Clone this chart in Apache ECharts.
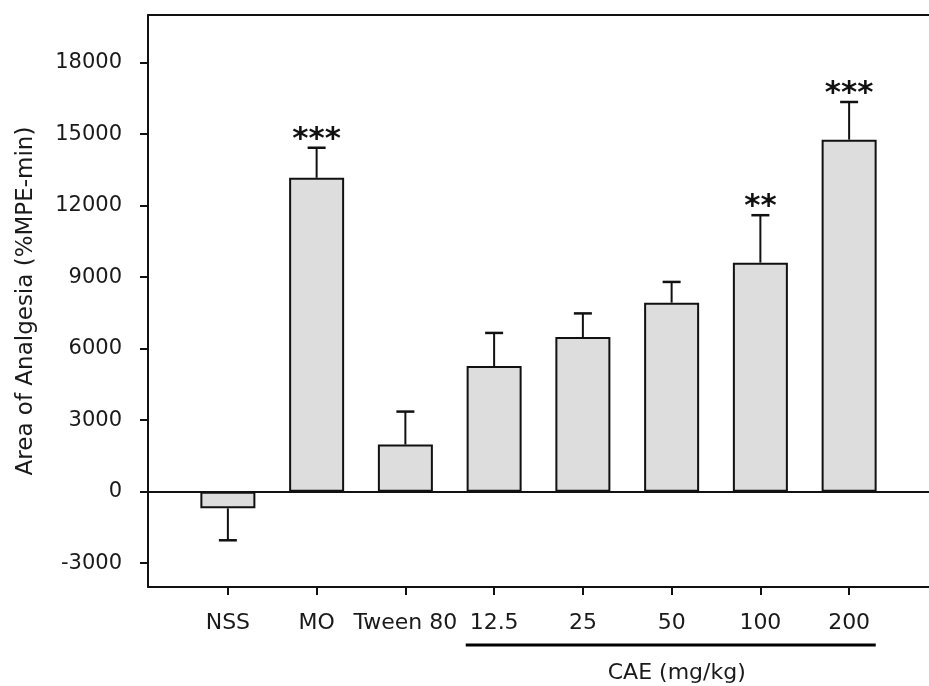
<!DOCTYPE html>
<html>
<head>
<meta charset="utf-8">
<script src="https://cdn.jsdelivr.net/npm/echarts@6/dist/echarts.min.js"></script>
<style>
html,body{margin:0;padding:0;background:#fff;}
#chart{width:929px;height:686px;}
</style>
</head>
<body>
<div id="chart"></div>
<script>
// ---- data ----
var categories = ['NSS', 'MO', 'Tween 80', '12.5', '25', '50', '100', '200'];
var means      = [-700, 13170, 1975, 5270, 6490, 7930, 9610, 14770];
var errors     = [1340, 1260, 1385, 1390, 990, 870, 1990, 1580];
var signif     = ['', '***', '', '', '', '', '**', '***'];
var yTicks     = [-3000, 0, 3000, 6000, 9000, 12000, 15000, 18000];
var groupLabel = 'CAE (mg/kg)';
var groupFrom  = 3, groupTo = 7;   // category indices underlined by the group bar
var yTitle     = 'Area of Analgesia (%MPE-min)';

var positions = categories.map(function (c, i) { return i + 1; });
var barData = means.map(function (m, i) { return [positions[i], m]; });
var errData = means.map(function (m, i) { return [positions[i], m, errors[i]]; });

var FONT = 'DejaVu Sans';
var chart = echarts.init(document.getElementById('chart'), null, {renderer: 'canvas'});

var xMin = 0.1, xMax = 8.9;

var option = {
  backgroundColor: '#ffffff',
  animation: false,
  grid: {left: 148, right: -10, top: 15, bottom: 99, containLabel: false},
  xAxis: [{
    type: 'value', min: xMin, max: xMax, position: 'bottom',
    axisLine: {show: true, onZero: false, lineStyle: {color: '#111', width: 2}},
    axisTick: {show: true, inside: false, length: 8, customValues: positions, lineStyle: {color: '#111', width: 2}},
    axisLabel: {show: true, margin: 25, customValues: positions, color: '#1a1a1a', fontFamily: FONT, fontSize: 22,
      formatter: function (v) { return categories[Math.round(v) - 1] || ''; }},
    splitLine: {show: false}
  }, {
    type: 'value', min: xMin, max: xMax, position: 'top',
    axisLine: {show: true, onZero: false, lineStyle: {color: '#111', width: 2}},
    axisTick: {show: false}, axisLabel: {show: false}, splitLine: {show: false}
  }],
  yAxis: {
    type: 'value', min: -4000, max: 20000,
    name: yTitle, nameLocation: 'middle', nameGap: 110, nameRotate: 90,
    nameTextStyle: {color: '#1a1a1a', fontFamily: FONT, fontSize: 23},
    axisLine: {show: true, onZero: false, lineStyle: {color: '#111', width: 2}},
    axisTick: {show: true, inside: false, length: 8, customValues: yTicks, lineStyle: {color: '#111', width: 2}},
    axisLabel: {show: true, margin: 26, customValues: yTicks, color: '#1a1a1a', fontFamily: FONT, fontSize: 21,
      formatter: function (v) { return String(v); }},
    splitLine: {show: false}
  },
  series: [{
    type: 'bar',
    data: barData,
    barWidth: 55,
    itemStyle: {color: '#dddddd', borderColor: '#111', borderWidth: 2},
    markLine: {
      silent: true, symbol: ['none', 'none'], label: {show: false},
      lineStyle: {color: '#111', width: 2, type: 'solid'},
      data: [{yAxis: 0}]
    },
    z: 2
  }, {
    type: 'custom',
    data: errData,
    z: 3,
    renderItem: function (params, api) {
      var x = api.value(0), m = api.value(1), e = api.value(2);
      var end = m < 0 ? m - e : m + e;
      var p0 = api.coord([x, m]);
      var p1 = api.coord([x, end]);
      var hw = 9;
      var children = [
        {type: 'line', shape: {x1: p0[0], y1: p0[1], x2: p1[0], y2: p1[1]}, style: {stroke: '#111', lineWidth: 2}},
        {type: 'line', shape: {x1: p1[0] - hw, y1: p1[1], x2: p1[0] + hw, y2: p1[1]}, style: {stroke: '#111', lineWidth: 2.5}}
      ];
      var s = signif[params.dataIndex];
      if (s) {
        children.push({type: 'text', x: p1[0], y: p1[1] - 8,
          style: {text: s, fill: '#111', font: 'bold 31px "DejaVu Sans"', align: 'center', verticalAlign: 'middle'}});
      }
      return {type: 'group', children: children};
    }
  }]
};
chart.setOption(option);

// group underline and label, placed through the axis scale
var gx1 = chart.convertToPixel({xAxisIndex: 0}, positions[groupFrom] - 0.32);
var gx2 = chart.convertToPixel({xAxisIndex: 0}, positions[groupTo] + 0.30);
chart.setOption({
  graphic: [
    {type: 'line', shape: {x1: gx1, y1: 645, x2: gx2, y2: 645}, style: {stroke: '#000', lineWidth: 3}},
    {type: 'text', x: (gx1 + gx2) / 2 + 6, y: 673,
      style: {text: groupLabel, fill: '#1a1a1a', font: '22px "DejaVu Sans"', align: 'center', verticalAlign: 'middle'}}
  ]
});
</script>
</body>
</html>
